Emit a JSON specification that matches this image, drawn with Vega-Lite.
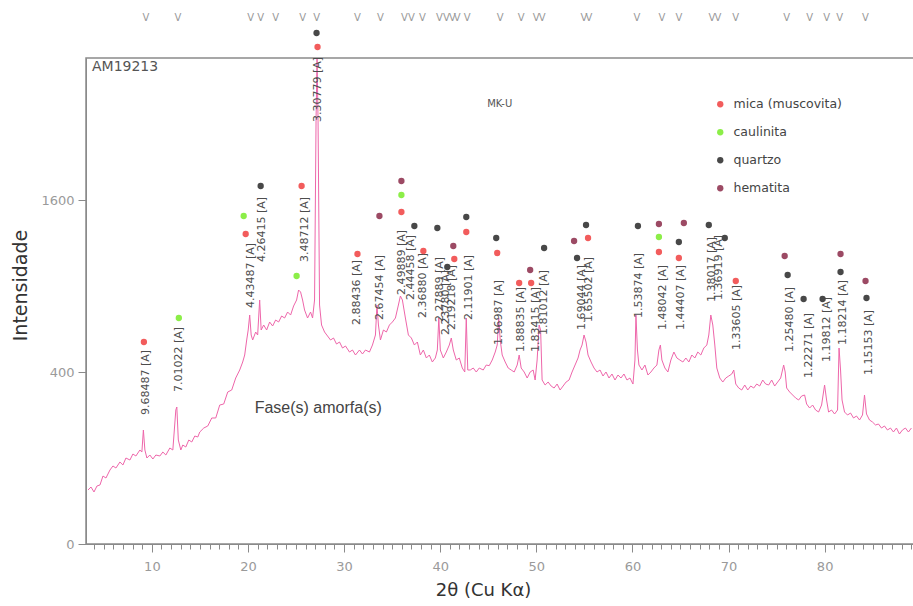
{
 "$schema": "https://vega.github.io/schema/vega-lite/v6.json",
 "width": 828, "height": 486,
 "autosize": "none",
 "padding": {"left": 86, "top": 58, "right": 0, "bottom": 62},
 "background": "white",
 "config": {"view": {"stroke": "#8a8a8a", "strokeWidth": 1.5}, "font": "DejaVu Sans"},
 "datasets": {
  "spec": [
   {"t":3.353,"i":39.4},{"t":3.665,"i":43.9},{"t":3.977,"i":36.6},{"t":4.288,"i":45.5},{"t":4.600,"i":47.1},{"t":4.911,"i":62.5},{"t":5.223,"i":58.9},{"t":5.638,"i":74.0},{"t":5.950,"i":82.3},{"t":6.261,"i":78.1},{"t":6.677,"i":90.9},{"t":6.988,"i":84.4},{"t":7.300,"i":100.0},{"t":7.715,"i":95.4},{"t":8.027,"i":109.5},{"t":8.338,"i":104.7},{"t":8.754,"i":119.5},{"t":8.961,"i":114.4},{"t":9.117,"i":175.7},{"t":9.273,"i":119.5},{"t":9.481,"i":100.0},{"t":9.792,"i":107.1},{"t":10.104,"i":97.7},{"t":10.415,"i":107.1},{"t":10.831,"i":104.7},{"t":11.142,"i":114.4},{"t":11.454,"i":107.1},{"t":11.869,"i":124.6},{"t":12.181,"i":119.5},{"t":12.492,"i":242.8},{"t":12.596,"i":253.8},{"t":12.752,"i":146.2},{"t":13.012,"i":119.5},{"t":13.219,"i":132.5},{"t":13.531,"i":127.2},{"t":13.842,"i":146.2},{"t":14.154,"i":140.7},{"t":14.466,"i":157.7},{"t":14.777,"i":154.8},{"t":14.985,"i":169.6},{"t":15.400,"i":181.9},{"t":15.816,"i":188.3},{"t":16.231,"i":214.7},{"t":16.647,"i":214.7},{"t":17.062,"i":261.2},{"t":17.477,"i":265.0},{"t":17.893,"i":312.4},{"t":18.308,"i":320.7},{"t":18.724,"i":372.6},{"t":19.139,"i":409.4},{"t":19.451,"i":447.9},{"t":19.658,"i":483.0},{"t":19.866,"i":562.7},{"t":20.022,"i":619.2},{"t":20.178,"i":709.0},{"t":20.333,"i":590.6},{"t":20.489,"i":562.7},{"t":20.801,"i":607.7},{"t":21.008,"i":590.6},{"t":21.216,"i":805.0},{"t":21.372,"i":619.2},{"t":21.632,"i":648.5},{"t":21.943,"i":619.2},{"t":22.255,"i":666.4},{"t":22.566,"i":642.6},{"t":22.878,"i":678.4},{"t":23.189,"i":666.4},{"t":23.501,"i":702.9},{"t":23.812,"i":690.6},{"t":24.124,"i":727.7},{"t":24.435,"i":709.0},{"t":24.747,"i":765.9},{"t":25.059,"i":805.0},{"t":25.266,"i":872.3},{"t":25.474,"i":858.6},{"t":25.682,"i":805.0},{"t":25.889,"i":740.3},{"t":26.201,"i":690.6},{"t":26.512,"i":727.7},{"t":26.720,"i":690.6},{"t":26.928,"i":805.0},{"t":27.084,"i":2430.7},{"t":27.188,"i":3193.6},{"t":27.292,"i":2430.7},{"t":27.447,"i":772.3},{"t":27.655,"i":648.5},{"t":27.967,"i":607.7},{"t":28.278,"i":585.0},{"t":28.590,"i":562.7},{"t":28.901,"i":573.8},{"t":29.213,"i":540.8},{"t":29.524,"i":551.7},{"t":29.836,"i":519.4},{"t":30.147,"i":530.1},{"t":30.563,"i":498.4},{"t":30.874,"i":508.9},{"t":31.186,"i":483.0},{"t":31.602,"i":508.9},{"t":31.913,"i":488.1},{"t":32.225,"i":508.9},{"t":32.640,"i":498.4},{"t":32.952,"i":535.4},{"t":33.263,"i":590.6},{"t":33.419,"i":772.3},{"t":33.575,"i":648.5},{"t":33.782,"i":562.7},{"t":34.094,"i":619.2},{"t":34.405,"i":607.7},{"t":34.717,"i":648.5},{"t":35.029,"i":666.4},{"t":35.340,"i":690.6},{"t":35.652,"i":772.3},{"t":35.859,"i":831.6},{"t":36.067,"i":805.0},{"t":36.379,"i":690.6},{"t":36.690,"i":590.6},{"t":37.002,"i":573.8},{"t":37.313,"i":535.4},{"t":37.625,"i":551.7},{"t":37.936,"i":483.0},{"t":38.248,"i":508.9},{"t":38.560,"i":467.8},{"t":38.871,"i":483.0},{"t":39.183,"i":447.9},{"t":39.494,"i":467.8},{"t":39.702,"i":508.9},{"t":39.858,"i":690.6},{"t":40.013,"i":508.9},{"t":40.325,"i":467.8},{"t":40.637,"i":498.4},{"t":40.948,"i":535.4},{"t":41.156,"i":573.8},{"t":41.364,"i":508.9},{"t":41.675,"i":457.8},{"t":41.987,"i":467.8},{"t":42.298,"i":418.8},{"t":42.558,"i":400.0},{"t":42.714,"i":690.6},{"t":42.870,"i":409.4},{"t":43.129,"i":409.4},{"t":43.441,"i":418.8},{"t":43.752,"i":400.0},{"t":44.064,"i":418.8},{"t":44.479,"i":409.4},{"t":44.791,"i":433.2},{"t":45.102,"i":430.0},{"t":45.414,"i":457.8},{"t":45.726,"i":498.4},{"t":45.933,"i":535.4},{"t":46.089,"i":690.6},{"t":46.245,"i":562.7},{"t":46.452,"i":483.0},{"t":46.764,"i":447.9},{"t":47.076,"i":418.8},{"t":47.387,"i":409.4},{"t":47.699,"i":400.0},{"t":48.010,"i":433.2},{"t":48.218,"i":483.0},{"t":48.426,"i":418.8},{"t":48.737,"i":400.0},{"t":49.049,"i":372.6},{"t":49.360,"i":400.0},{"t":49.672,"i":409.4},{"t":49.879,"i":363.7},{"t":50.087,"i":457.8},{"t":50.295,"i":648.5},{"t":50.450,"i":619.2},{"t":50.606,"i":363.7},{"t":50.918,"i":341.8},{"t":51.229,"i":354.8},{"t":51.541,"i":337.5},{"t":51.852,"i":329.0},{"t":52.164,"i":346.1},{"t":52.476,"i":320.7},{"t":52.787,"i":337.5},{"t":53.099,"i":354.8},{"t":53.410,"i":363.7},{"t":53.722,"i":400.0},{"t":54.033,"i":433.2},{"t":54.345,"i":467.8},{"t":54.553,"i":508.9},{"t":54.760,"i":535.4},{"t":54.968,"i":590.6},{"t":55.176,"i":551.7},{"t":55.383,"i":483.0},{"t":55.695,"i":447.9},{"t":56.007,"i":418.8},{"t":56.318,"i":400.0},{"t":56.630,"i":409.4},{"t":56.941,"i":381.6},{"t":57.253,"i":400.0},{"t":57.564,"i":372.6},{"t":57.876,"i":390.8},{"t":58.188,"i":363.7},{"t":58.499,"i":386.2},{"t":58.811,"i":372.6},{"t":59.122,"i":390.8},{"t":59.434,"i":363.7},{"t":59.745,"i":372.6},{"t":60.057,"i":346.1},{"t":60.265,"i":457.8},{"t":60.368,"i":709.0},{"t":60.524,"i":508.9},{"t":60.680,"i":433.2},{"t":60.992,"i":409.4},{"t":61.303,"i":433.2},{"t":61.615,"i":386.2},{"t":61.926,"i":400.0},{"t":62.238,"i":418.8},{"t":62.549,"i":433.2},{"t":62.757,"i":508.9},{"t":62.913,"i":535.4},{"t":63.069,"i":457.8},{"t":63.380,"i":418.8},{"t":63.692,"i":400.0},{"t":64.003,"i":457.8},{"t":64.315,"i":498.4},{"t":64.627,"i":467.8},{"t":64.938,"i":457.8},{"t":65.250,"i":447.9},{"t":65.561,"i":467.8},{"t":65.873,"i":447.9},{"t":66.184,"i":483.0},{"t":66.496,"i":467.8},{"t":66.807,"i":498.4},{"t":67.119,"i":483.0},{"t":67.431,"i":519.4},{"t":67.742,"i":535.4},{"t":67.950,"i":590.6},{"t":68.158,"i":709.0},{"t":68.365,"i":648.5},{"t":68.573,"i":535.4},{"t":68.781,"i":418.8},{"t":69.092,"i":372.6},{"t":69.404,"i":354.8},{"t":69.715,"i":372.6},{"t":70.027,"i":381.6},{"t":70.338,"i":390.8},{"t":70.546,"i":409.4},{"t":70.754,"i":346.1},{"t":71.065,"i":329.0},{"t":71.377,"i":320.7},{"t":71.688,"i":341.8},{"t":72.000,"i":320.7},{"t":72.311,"i":337.5},{"t":72.623,"i":329.0},{"t":72.935,"i":346.1},{"t":73.246,"i":337.5},{"t":73.558,"i":363.7},{"t":73.869,"i":346.1},{"t":74.181,"i":341.8},{"t":74.492,"i":363.7},{"t":74.804,"i":337.5},{"t":75.115,"i":354.8},{"t":75.427,"i":372.6},{"t":75.739,"i":433.2},{"t":75.894,"i":400.0},{"t":76.050,"i":329.0},{"t":76.362,"i":312.4},{"t":76.673,"i":300.2},{"t":76.985,"i":288.2},{"t":77.296,"i":280.4},{"t":77.608,"i":296.2},{"t":77.919,"i":300.2},{"t":78.127,"i":265.0},{"t":78.439,"i":250.1},{"t":78.750,"i":261.2},{"t":79.062,"i":242.8},{"t":79.373,"i":235.6},{"t":79.685,"i":261.2},{"t":79.996,"i":341.8},{"t":80.204,"i":280.4},{"t":80.412,"i":235.6},{"t":80.723,"i":242.8},{"t":81.035,"i":228.5},{"t":81.346,"i":242.8},{"t":81.502,"i":519.4},{"t":81.658,"i":409.4},{"t":81.814,"i":280.4},{"t":82.073,"i":235.6},{"t":82.385,"i":225.0},{"t":82.697,"i":232.0},{"t":83.008,"i":214.7},{"t":83.320,"i":221.5},{"t":83.631,"i":207.9},{"t":83.943,"i":225.0},{"t":84.151,"i":300.2},{"t":84.358,"i":228.5},{"t":84.670,"i":207.9},{"t":84.981,"i":201.2},{"t":85.293,"i":191.5},{"t":85.604,"i":194.7},{"t":85.916,"i":181.9},{"t":86.228,"i":188.3},{"t":86.539,"i":175.7},{"t":86.851,"i":181.9},{"t":87.162,"i":169.6},{"t":87.474,"i":181.9},{"t":87.785,"i":163.6},{"t":88.097,"i":175.7},{"t":88.408,"i":181.9},{"t":88.720,"i":169.6},{"t":89.031,"i":181.9}
  ],
  "labels": [
   {"t":9.377,"i":225.0,"d":"9.68487 [A]"},{"t":12.804,"i":312.4,"d":"7.01022 [A]"},{"t":20.281,"i":753.1,"d":"4.43487 [A]"},{"t":21.424,"i":1075.2,"d":"4.26415 [A]"},{"t":25.889,"i":1075.2,"d":"3.48712 [A]"},{"t":27.239,"i":2407.8,"d":"3.30779 [A]"},{"t":31.394,"i":648.5,"d":"2.88436 [A]"},{"t":33.782,"i":678.4,"d":"2.67454 [A]"},{"t":36.067,"i":838.3,"d":"2.49889 [A]"},{"t":37.002,"i":805.0,"d":"2.44458 [A]"},{"t":38.248,"i":690.6,"d":"2.36880 [A]"},{"t":40.013,"i":666.4,"d":"2.27889 [A]"},{"t":40.637,"i":590.6,"d":"2.23780 [A]"},{"t":41.260,"i":619.2,"d":"2.19218 [A]"},{"t":43.025,"i":678.4,"d":"2.11901 [A]"},{"t":46.141,"i":535.4,"d":"1.96987 [A]"},{"t":48.426,"i":498.4,"d":"1.88835 [A]"},{"t":49.983,"i":498.4,"d":"1.83415 [A]"},{"t":50.814,"i":590.6,"d":"1.81012 [A]"},{"t":54.760,"i":619.2,"d":"1.69044 [A]"},{"t":55.487,"i":666.4,"d":"1.65502 [A]"},{"t":60.680,"i":690.6,"d":"1.53874 [A]"},{"t":63.173,"i":619.2,"d":"1.48042 [A]"},{"t":65.042,"i":619.2,"d":"1.44407 [A]"},{"t":68.262,"i":791.8,"d":"1.38017 [A]"},{"t":68.989,"i":805.0,"d":"1.36919 [A]"},{"t":70.858,"i":508.9,"d":"1.33605 [A]"},{"t":76.362,"i":498.4,"d":"1.25480 [A]"},{"t":78.335,"i":372.6,"d":"1.22271 [A]"},{"t":80.204,"i":447.9,"d":"1.19812 [A]"},{"t":81.866,"i":535.4,"d":"1.18214 [A]"},{"t":84.566,"i":386.2,"d":"1.15153 [A]"}
  ],
  "dots": [
   {"t":9.169,"i":551.7,"f":"mica (muscovita)"},{"t":19.762,"i":1299.4,"f":"mica (muscovita)"},{"t":25.578,"i":1732.9,"f":"mica (muscovita)"},{"t":27.239,"i":3339.8,"f":"mica (muscovita)"},{"t":31.394,"i":1137.1,"f":"mica (muscovita)"},{"t":35.963,"i":1490.3,"f":"mica (muscovita)"},{"t":38.248,"i":1160.8,"f":"mica (muscovita)"},{"t":41.468,"i":1098.2,"f":"mica (muscovita)"},{"t":42.714,"i":1316.2,"f":"mica (muscovita)"},{"t":45.933,"i":1144.9,"f":"mica (muscovita)"},{"t":48.218,"i":921.1,"f":"mica (muscovita)"},{"t":49.464,"i":921.1,"f":"mica (muscovita)"},{"t":55.383,"i":1266.1,"f":"mica (muscovita)"},{"t":62.757,"i":1152.8,"f":"mica (muscovita)"},{"t":64.834,"i":1106.0,"f":"mica (muscovita)"},{"t":70.754,"i":935.2,"f":"mica (muscovita)"},
   {"t":12.804,"i":690.6,"f":"caulinita"},{"t":19.554,"i":1454.6,"f":"caulinita"},{"t":25.059,"i":971.1,"f":"caulinita"},{"t":35.963,"i":1646.8,"f":"caulinita"},{"t":62.757,"i":1274.3,"f":"caulinita"},
   {"t":21.320,"i":1732.9,"f":"quartzo"},{"t":27.136,"i":3530.6,"f":"quartzo"},{"t":37.313,"i":1367.3,"f":"quartzo"},{"t":39.702,"i":1350.2,"f":"quartzo"},{"t":40.741,"i":1037.4,"f":"quartzo"},{"t":42.714,"i":1445.8,"f":"quartzo"},{"t":45.829,"i":1266.1,"f":"quartzo"},{"t":50.814,"i":1184.7,"f":"quartzo"},{"t":54.241,"i":1106.0,"f":"quartzo"},{"t":55.176,"i":1375.9,"f":"quartzo"},{"t":60.576,"i":1367.3,"f":"quartzo"},{"t":64.834,"i":1233.1,"f":"quartzo"},{"t":67.950,"i":1375.9,"f":"quartzo"},{"t":69.611,"i":1266.1,"f":"quartzo"},{"t":76.154,"i":978.4,"f":"quartzo"},{"t":77.815,"i":811.6,"f":"quartzo"},{"t":79.788,"i":811.6,"f":"quartzo"},{"t":81.658,"i":1000.3,"f":"quartzo"},{"t":84.358,"i":818.2,"f":"quartzo"},
   {"t":33.678,"i":1454.6,"f":"hematita"},{"t":35.963,"i":1781.6,"f":"hematita"},{"t":41.364,"i":1200.7,"f":"hematita"},{"t":49.360,"i":1015.1,"f":"hematita"},{"t":53.930,"i":1241.3,"f":"hematita"},{"t":62.757,"i":1384.5,"f":"hematita"},{"t":65.353,"i":1393.2,"f":"hematita"},{"t":75.842,"i":1121.5,"f":"hematita"},{"t":81.658,"i":1137.1,"f":"hematita"},{"t":84.255,"i":935.2,"f":"hematita"}
  ],
  "marks": [
   {"t":9.377},{"t":12.700},{"t":20.281},{"t":21.320},{"t":22.878},{"t":25.682},{"t":27.136},{"t":31.394},{"t":33.782},{"t":36.275},{"t":37.002},{"t":38.144},{"t":39.910},{"t":40.637},{"t":41.260},{"t":41.779},{"t":42.818},{"t":46.245},{"t":48.426},{"t":49.983},{"t":50.606},{"t":54.968},{"t":55.487},{"t":60.472},{"t":63.069},{"t":64.834},{"t":68.262},{"t":68.885},{"t":70.754},{"t":76.050},{"t":78.439},{"t":80.204},{"t":81.554},{"t":84.255}
  ]
 },
 "layer": [
  {
   "data": {"name": "spec"},
   "mark": {"type": "line", "color": "#ee66aa", "strokeWidth": 1, "interpolate": "linear"},
   "encoding": {
    "x": {"field": "t", "type": "quantitative", "scale": {"domain": [3.146, 89.3], "nice": false, "zero": false},
     "axis": {"title": "2θ (Cu Kα)", "tickCount": 200, "values": [4,5,6,7,8,9,10,11,12,13,14,15,16,17,18,19,20,21,22,23,24,25,26,27,28,29,30,31,32,33,34,35,36,37,38,39,40,41,42,43,44,45,46,47,48,49,50,51,52,53,54,55,56,57,58,59,60,61,62,63,64,65,66,67,68,69,70,71,72,73,74,75,76,77,78,79,80,81,82,83,84,85,86,87,88,89],
      "labelExpr": "datum.value % 10 === 0 ? datum.label : ''", "format": "d",
      "tickSize": {"condition": {"test": "datum.value % 10 === 0", "value": 8}, "value": 5},
      "domainColor": "#8a8a8a", "tickColor": "#8a8a8a", "labelColor": "#9a9a9a", "labelFontSize": 13, "labelPadding": 8,
      "labelOverlap": false, "labelFlush": false, "grid": false,
      "titleFontSize": 18, "titleFontWeight": "normal", "titleColor": "#333333", "titlePadding": 8, "titleX": 397}},
    "y": {"field": "i", "type": "quantitative", "scale": {"type": "sqrt", "domain": [0, 3194], "nice": false},
     "axis": {"title": "Intensidade", "values": [0, 400, 1600], "format": "d", "tickSize": 8, "domainColor": "#8a8a8a", "tickColor": "#8a8a8a",
      "labelColor": "#9a9a9a", "labelFontSize": 13, "labelPadding": 4, "grid": false,
      "titleFontSize": 19, "titleFontWeight": "normal", "titleColor": "#333333", "titlePadding": 10, "titleY": 227}}
   }
  },
  {
   "data": {"name": "labels"},
   "mark": {"type": "text", "angle": 270, "align": "left", "baseline": "middle", "fontSize": 11, "font": "DejaVu Sans", "color": "#4d4d4d"},
   "encoding": {
    "x": {"field": "t", "type": "quantitative", "scale": {"domain": [3.146, 89.3], "nice": false, "zero": false}},
    "y": {"field": "i", "type": "quantitative", "scale": {"type": "sqrt", "domain": [0, 3194], "nice": false}},
    "text": {"field": "d"}
   }
  },
  {
   "data": {"name": "dots"},
   "mark": {"type": "point", "filled": true, "size": 40, "opacity": 1},
   "encoding": {
    "x": {"field": "t", "type": "quantitative", "scale": {"domain": [3.146, 89.3], "nice": false, "zero": false}},
    "y": {"field": "i", "type": "quantitative", "scale": {"type": "sqrt", "domain": [0, 3194], "nice": false}},
    "color": {"field": "f", "type": "nominal",
     "scale": {"domain": ["mica (muscovita)", "caulinita", "quartzo", "hematita"], "range": ["#f25c5c", "#8cee48", "#484848", "#9c4a64"]},
     "legend": {"title": null, "orient": "none", "legendX": 628, "legendY": 40, "symbolType": "circle", "symbolSize": 40,
      "labelFontSize": 12.5, "labelFont": "DejaVu Sans", "labelColor": "#444444", "rowPadding": 15, "labelOffset": 7, "padding": 0}}
   }
  },
  {
   "data": {"name": "marks"},
   "mark": {"type": "text", "text": "V", "fontSize": 10, "font": "DejaVu Sans", "color": "#9a9a9a", "baseline": "middle"},
   "encoding": {
    "x": {"field": "t", "type": "quantitative", "scale": {"domain": [3.146, 89.3], "nice": false, "zero": false}},
    "y": {"datum": 3741, "type": "quantitative", "scale": {"type": "sqrt", "domain": [0, 3194], "nice": false}}
   }
  },
  {
   "data": {"values": [{"t": 3.769, "i": 3076.4, "txt": "AM19213"}]},
   "mark": {"type": "text", "align": "left", "baseline": "middle", "fontSize": 14, "font": "DejaVu Sans", "color": "#555555"},
   "encoding": {
    "x": {"field": "t", "type": "quantitative", "scale": {"domain": [3.146, 89.3], "nice": false, "zero": false}},
    "y": {"field": "i", "type": "quantitative", "scale": {"type": "sqrt", "domain": [0, 3194], "nice": false}},
    "text": {"field": "txt"}
   }
  },
  {
   "data": {"values": [{"t": 44.893, "i": 2617.6, "txt": "MK-U"}]},
   "mark": {"type": "text", "align": "left", "baseline": "middle", "fontSize": 10, "font": "DejaVu Sans", "color": "#555555"},
   "encoding": {
    "x": {"field": "t", "type": "quantitative", "scale": {"domain": [3.146, 89.3], "nice": false, "zero": false}},
    "y": {"field": "i", "type": "quantitative", "scale": {"type": "sqrt", "domain": [0, 3194], "nice": false}},
    "text": {"field": "txt"}
   }
  },
  {
   "data": {"values": [{"t": 20.697, "i": 250.1, "txt": "Fase(s) amorfa(s)"}]},
   "mark": {"type": "text", "align": "left", "baseline": "middle", "fontSize": 16, "font": "Liberation Sans", "color": "#444444"},
   "encoding": {
    "x": {"field": "t", "type": "quantitative", "scale": {"domain": [3.146, 89.3], "nice": false, "zero": false}},
    "y": {"field": "i", "type": "quantitative", "scale": {"type": "sqrt", "domain": [0, 3194], "nice": false}},
    "text": {"field": "txt"}
   }
  }
 ]
}
